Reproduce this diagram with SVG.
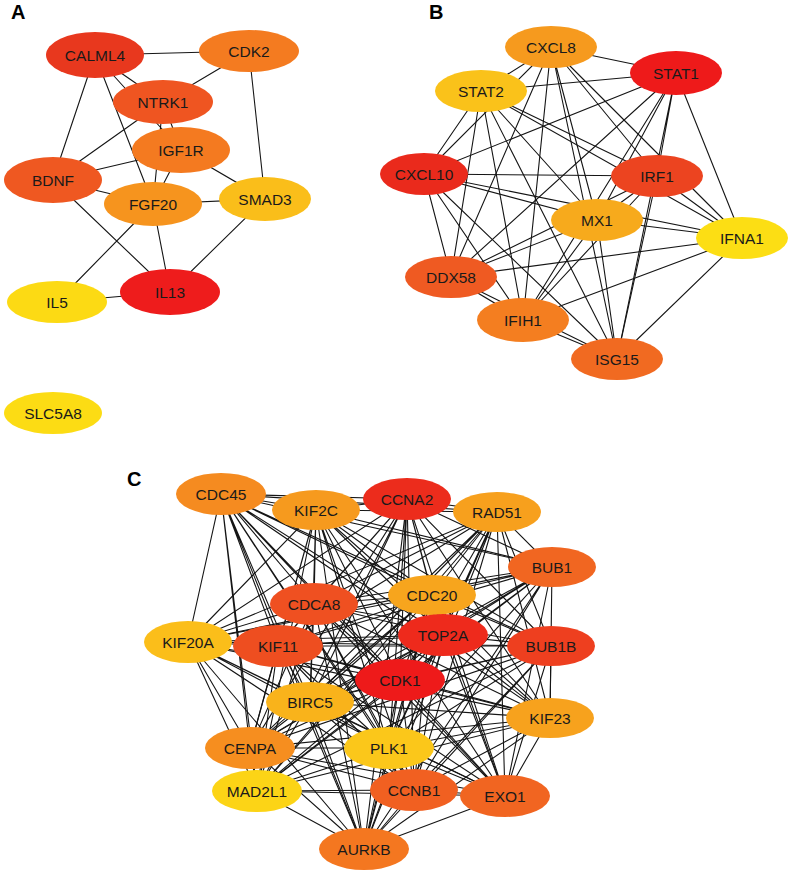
<svg xmlns="http://www.w3.org/2000/svg" width="795" height="875" viewBox="0 0 795 875">
<style>
.e{stroke:#151515;stroke-width:1.1;fill:none}
.n text{font-family:"Liberation Sans",Arial,sans-serif;font-size:15.5px;fill:#1a1a1a;text-anchor:middle;dominant-baseline:central}
.lab{font-family:"Liberation Sans",Arial,sans-serif;font-size:20px;font-weight:bold;fill:#000}
</style>
<rect width="795" height="875" fill="#fff"/>
<text class="lab" x="11" y="19">A</text>
<text class="lab" x="429" y="19">B</text>
<text class="lab" x="127" y="486">C</text>
<g id="connectors">
<g id="edges-A">
<path class="e" d="M95 55L249 51M95 55L163 102M95 55L181 150M95 55L153 204M95 55L53 180M249 51L163 102M249 51L265 199M163 102L53 180M163 102L181 150M163 102L153 204M181 150L53 180M181 150L153 204M181 150L265 199M53 180L153 204M53 180L170 292M153 204L265 199M153 204L57 302M153 204L170 292M265 199L170 292M170 292L57 302"/>
</g>
<g id="edges-B">
<path class="e" d="M551 47L676 73M551 47L481 91M551 47L424 174M551 47L657 176M551 47L597 220M551 47L742 238M551 47L451 277M551 47L523 320M551 47L617 359"/>
<path class="e" d="M676 73L481 91M676 73L424 174M676 73L657 176M676 73L597 220M676 73L742 238M676 73L451 277M676 73L523 320M676 73L617 359"/>
<path class="e" d="M481 91L424 174M481 91L657 176M481 91L597 220M481 91L742 238M481 91L451 277M481 91L523 320M481 91L617 359"/>
<path class="e" d="M424 174L657 176M424 174L597 220M424 174L742 238M424 174L451 277M424 174L523 320M424 174L617 359"/>
<path class="e" d="M657 176L597 220M657 176L742 238M657 176L451 277M657 176L523 320M657 176L617 359"/>
<path class="e" d="M597 220L742 238M597 220L451 277M597 220L523 320M597 220L617 359"/>
<path class="e" d="M742 238L451 277M742 238L523 320M742 238L617 359M451 277L523 320M451 277L617 359M523 320L617 359"/>
</g>
<g id="edges-C">
<path class="e" d="M221 494L316 510M221 494L407 499M221 494L497 512M221 494L552 567M221 494L314 604M221 494L432 595M221 494L188 642M221 494L278 646M221 494L443 635M221 494L551 646M221 494L400 680M221 494L310 702M221 494L550 718M221 494L250 748M221 494L389 748M221 494L257 791M221 494L414 790M221 494L505 796M221 494L364 849"/>
<path class="e" d="M316 510L407 499M316 510L497 512M316 510L552 567M316 510L314 604M316 510L432 595M316 510L188 642M316 510L278 646M316 510L443 635M316 510L551 646M316 510L400 680M316 510L310 702M316 510L550 718M316 510L250 748M316 510L389 748M316 510L257 791M316 510L414 790M316 510L505 796M316 510L364 849"/>
<path class="e" d="M407 499L497 512M407 499L552 567M407 499L314 604M407 499L432 595M407 499L188 642M407 499L278 646M407 499L443 635M407 499L551 646M407 499L400 680M407 499L310 702M407 499L550 718M407 499L250 748M407 499L389 748M407 499L257 791M407 499L414 790M407 499L505 796M407 499L364 849"/>
<path class="e" d="M497 512L552 567M497 512L314 604M497 512L432 595M497 512L188 642M497 512L278 646M497 512L443 635M497 512L551 646M497 512L400 680M497 512L310 702M497 512L550 718M497 512L250 748M497 512L389 748M497 512L257 791M497 512L414 790M497 512L505 796M497 512L364 849"/>
<path class="e" d="M552 567L314 604M552 567L432 595M552 567L188 642M552 567L278 646M552 567L443 635M552 567L551 646M552 567L400 680M552 567L310 702M552 567L550 718M552 567L250 748M552 567L389 748M552 567L257 791M552 567L414 790M552 567L505 796M552 567L364 849"/>
<path class="e" d="M314 604L432 595M314 604L188 642M314 604L278 646M314 604L443 635M314 604L551 646M314 604L400 680M314 604L310 702M314 604L550 718M314 604L250 748M314 604L389 748M314 604L257 791M314 604L414 790M314 604L505 796M314 604L364 849"/>
<path class="e" d="M432 595L188 642M432 595L278 646M432 595L443 635M432 595L551 646M432 595L400 680M432 595L310 702M432 595L550 718M432 595L250 748M432 595L389 748M432 595L257 791M432 595L414 790M432 595L505 796M432 595L364 849"/>
<path class="e" d="M188 642L278 646M188 642L443 635M188 642L551 646M188 642L400 680M188 642L310 702M188 642L550 718M188 642L250 748M188 642L389 748M188 642L257 791M188 642L414 790M188 642L505 796M188 642L364 849"/>
<path class="e" d="M278 646L443 635M278 646L551 646M278 646L400 680M278 646L310 702M278 646L550 718M278 646L250 748M278 646L389 748M278 646L257 791M278 646L414 790M278 646L505 796M278 646L364 849"/>
<path class="e" d="M443 635L551 646M443 635L400 680M443 635L310 702M443 635L550 718M443 635L250 748M443 635L389 748M443 635L257 791M443 635L414 790M443 635L505 796M443 635L364 849"/>
<path class="e" d="M551 646L400 680M551 646L310 702M551 646L550 718M551 646L250 748M551 646L389 748M551 646L257 791M551 646L414 790M551 646L505 796M551 646L364 849"/>
<path class="e" d="M400 680L310 702M400 680L550 718M400 680L250 748M400 680L389 748M400 680L257 791M400 680L414 790M400 680L505 796M400 680L364 849"/>
<path class="e" d="M310 702L550 718M310 702L250 748M310 702L389 748M310 702L257 791M310 702L414 790M310 702L505 796M310 702L364 849"/>
<path class="e" d="M550 718L250 748M550 718L389 748M550 718L257 791M550 718L414 790M550 718L505 796M550 718L364 849"/>
<path class="e" d="M250 748L389 748M250 748L257 791M250 748L414 790M250 748L505 796M250 748L364 849M389 748L257 791M389 748L414 790M389 748L505 796M389 748L364 849"/>
<path class="e" d="M257 791L414 790M257 791L505 796M257 791L364 849M414 790L505 796M414 790L364 849M505 796L364 849"/>
</g>
</g>
<g id="nodes-A">
<g id="CALML4" class="n"><ellipse cx="95" cy="55" rx="49" ry="23" fill="#E8381E"/><text x="95" y="55">CALML4</text></g>
<g id="CDK2" class="n"><ellipse cx="249" cy="51" rx="50" ry="21" fill="#F47B20"/><text x="249" y="51">CDK2</text></g>
<g id="NTRK1" class="n"><ellipse cx="163" cy="102" rx="50" ry="22" fill="#EF5521"/><text x="163" y="102">NTRK1</text></g>
<g id="IGF1R" class="n"><ellipse cx="181" cy="150" rx="49" ry="23" fill="#F47A20"/><text x="181" y="150">IGF1R</text></g>
<g id="BDNF" class="n"><ellipse cx="53" cy="180" rx="49" ry="23" fill="#EF5821"/><text x="53" y="180">BDNF</text></g>
<g id="FGF20" class="n"><ellipse cx="153" cy="204" rx="49" ry="22" fill="#F6941E"/><text x="153" y="204">FGF20</text></g>
<g id="SMAD3" class="n"><ellipse cx="265" cy="199" rx="46" ry="22" fill="#FABE1A"/><text x="265" y="199">SMAD3</text></g>
<g id="IL13" class="n"><ellipse cx="170" cy="292" rx="50" ry="23" fill="#EE1C1C"/><text x="170" y="292">IL13</text></g>
<g id="IL5" class="n"><ellipse cx="57" cy="302" rx="50" ry="21" fill="#FCDA14"/><text x="57" y="302">IL5</text></g>
<g id="SLC5A8" class="n"><ellipse cx="53" cy="413" rx="49" ry="21" fill="#FCDC14"/><text x="53" y="413">SLC5A8</text></g>
</g>
<g id="nodes-B">
<g id="CXCL8" class="n"><ellipse cx="551" cy="47" rx="46" ry="21" fill="#F69A1E"/><text x="551" y="47">CXCL8</text></g>
<g id="STAT1" class="n"><ellipse cx="676" cy="73" rx="46" ry="22" fill="#EE1A1A"/><text x="676" y="73">STAT1</text></g>
<g id="STAT2" class="n"><ellipse cx="481" cy="91" rx="46" ry="21" fill="#FAC21A"/><text x="481" y="91">STAT2</text></g>
<g id="CXCL10" class="n"><ellipse cx="424" cy="174" rx="44" ry="21" fill="#EA2A1C"/><text x="424" y="174">CXCL10</text></g>
<g id="IRF1" class="n"><ellipse cx="657" cy="176" rx="46" ry="21" fill="#EC4420"/><text x="657" y="176">IRF1</text></g>
<g id="MX1" class="n"><ellipse cx="597" cy="220" rx="46" ry="21" fill="#F7AA1C"/><text x="597" y="220">MX1</text></g>
<g id="IFNA1" class="n"><ellipse cx="742" cy="238" rx="46" ry="21" fill="#FCDE14"/><text x="742" y="238">IFNA1</text></g>
<g id="DDX58" class="n"><ellipse cx="451" cy="277" rx="46" ry="21" fill="#EF5A22"/><text x="451" y="277">DDX58</text></g>
<g id="IFIH1" class="n"><ellipse cx="523" cy="320" rx="46" ry="22" fill="#F47E20"/><text x="523" y="320">IFIH1</text></g>
<g id="ISG15" class="n"><ellipse cx="617" cy="359" rx="46" ry="21" fill="#F16A21"/><text x="617" y="359">ISG15</text></g>
</g>
<g id="nodes-C">
<g id="CDC45" class="n"><ellipse cx="221" cy="494" rx="45" ry="21" fill="#F58B20"/><text x="221" y="494">CDC45</text></g>
<g id="KIF2C" class="n"><ellipse cx="316" cy="510" rx="44" ry="20" fill="#F69A1E"/><text x="316" y="510">KIF2C</text></g>
<g id="CCNA2" class="n"><ellipse cx="407" cy="499" rx="44" ry="21" fill="#EC2C1C"/><text x="407" y="499">CCNA2</text></g>
<g id="RAD51" class="n"><ellipse cx="497" cy="512" rx="44" ry="20" fill="#F7A01D"/><text x="497" y="512">RAD51</text></g>
<g id="BUB1" class="n"><ellipse cx="552" cy="567" rx="44" ry="20" fill="#F16621"/><text x="552" y="567">BUB1</text></g>
<g id="CDCA8" class="n"><ellipse cx="314" cy="604" rx="44" ry="21" fill="#EF5021"/><text x="314" y="604">CDCA8</text></g>
<g id="CDC20" class="n"><ellipse cx="432" cy="595" rx="44" ry="20" fill="#F7A51D"/><text x="432" y="595">CDC20</text></g>
<g id="KIF20A" class="n"><ellipse cx="188" cy="642" rx="44" ry="21" fill="#FBBE1A"/><text x="188" y="642">KIF20A</text></g>
<g id="KIF11" class="n"><ellipse cx="278" cy="646" rx="45" ry="21" fill="#EE4E20"/><text x="278" y="646">KIF11</text></g>
<g id="TOP2A" class="n"><ellipse cx="443" cy="635" rx="45" ry="21" fill="#EE2A1C"/><text x="443" y="635">TOP2A</text></g>
<g id="BUB1B" class="n"><ellipse cx="551" cy="646" rx="44" ry="20" fill="#EE3F1F"/><text x="551" y="646">BUB1B</text></g>
<g id="CDK1" class="n"><ellipse cx="400" cy="680" rx="45" ry="21" fill="#EE1A1A"/><text x="400" y="680">CDK1</text></g>
<g id="BIRC5" class="n"><ellipse cx="310" cy="702" rx="44" ry="20" fill="#F9B31B"/><text x="310" y="702">BIRC5</text></g>
<g id="KIF23" class="n"><ellipse cx="550" cy="718" rx="44" ry="20" fill="#F7A21D"/><text x="550" y="718">KIF23</text></g>
<g id="CENPA" class="n"><ellipse cx="250" cy="748" rx="45" ry="21" fill="#F68E1F"/><text x="250" y="748">CENPA</text></g>
<g id="PLK1" class="n"><ellipse cx="389" cy="748" rx="45" ry="21" fill="#FBC71A"/><text x="389" y="748">PLK1</text></g>
<g id="MAD2L1" class="n"><ellipse cx="257" cy="791" rx="45" ry="21" fill="#FCD416"/><text x="257" y="791">MAD2L1</text></g>
<g id="CCNB1" class="n"><ellipse cx="414" cy="790" rx="44" ry="21" fill="#F16021"/><text x="414" y="790">CCNB1</text></g>
<g id="EXO1" class="n"><ellipse cx="505" cy="796" rx="45" ry="21" fill="#F16521"/><text x="505" y="796">EXO1</text></g>
<g id="AURKB" class="n"><ellipse cx="364" cy="849" rx="45" ry="21" fill="#F47720"/><text x="364" y="849">AURKB</text></g>
</g>
</svg>
